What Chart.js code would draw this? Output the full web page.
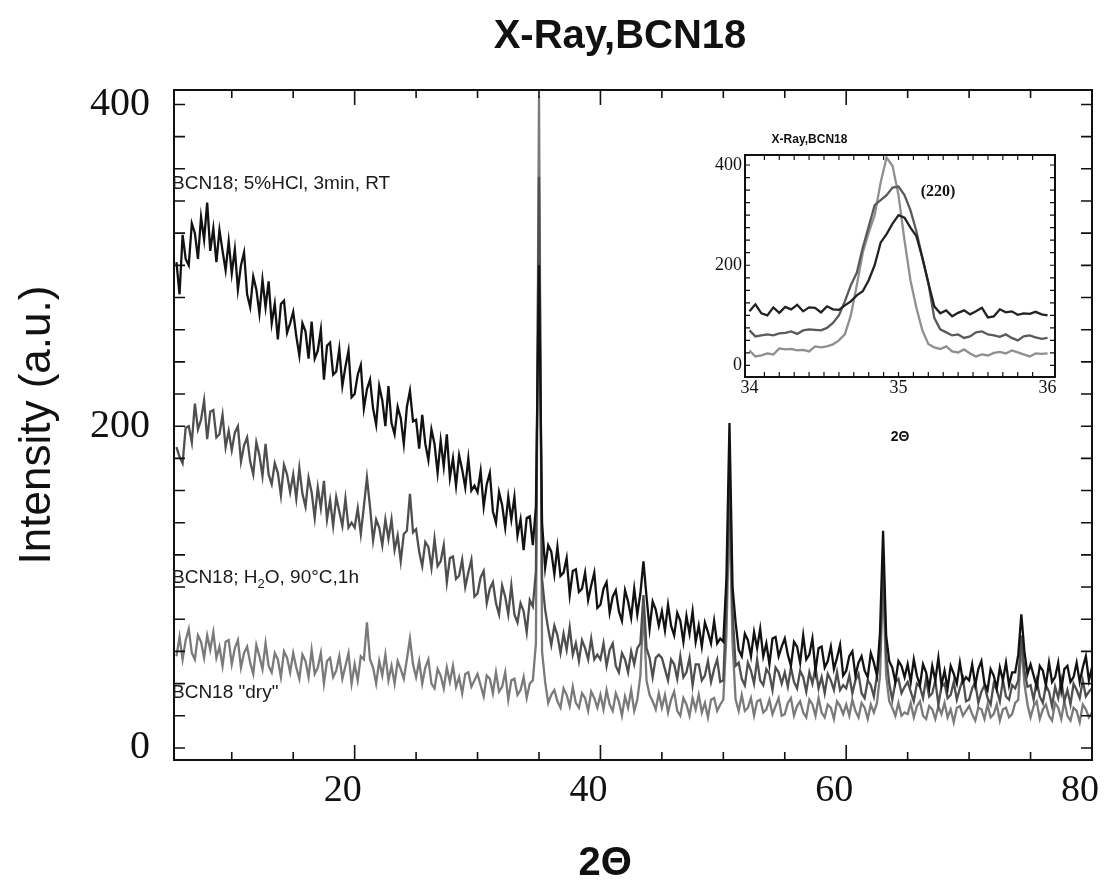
<!DOCTYPE html>
<html>
<head>
<meta charset="utf-8">
<script src="https://cdn.jsdelivr.net/npm/chart.js@4.4.0/dist/chart.umd.min.js"></script>
<style>
html,body{margin:0;padding:0;background:#fff;overflow:hidden;width:1116px;height:888px}
#wrap{position:relative;width:1116px;height:888px;overflow:hidden;background:#fff}
#main{position:absolute;left:0;top:0}
#inset{position:absolute;left:564px;top:100px}
</style>
</head>
<body>
<div id="wrap">
<canvas id="main" width="1240" height="888"></canvas>
<canvas id="inset" width="496" height="350"></canvas>
</div>
<script>
// ---------------- main pattern: 2θ from 5.5° to 80° every 0.25° ----------------
const twoThetaStart = 5.5;
const twoThetaStep = 0.25;

// BCN18; 5%HCl, 3min, RT
const hclCounts = [
  302, 282, 319, 304, 300, 326, 320, 304, 330, 316, 339, 309, 323, 302, 322, 309, 297, 315,
  295, 310, 285, 300, 308, 282, 274, 293, 285, 270, 291, 274, 290, 264, 276, 254, 276, 278, 258, 264,
  271, 256, 244, 264, 259, 242, 265, 242, 247, 260, 229, 250, 252, 232, 234, 248, 225, 237, 247, 218,
  220, 232, 238, 211, 223, 229, 211, 201, 225, 216, 200, 225, 202, 195, 212, 205, 189, 212, 222, 203,
  204, 186, 207, 189, 179, 198, 189, 171, 191, 175, 195, 168, 180, 163, 182, 173, 162, 180, 160, 163,
  159, 172, 150, 164, 171, 147, 140, 159, 151, 137, 156, 142, 156, 132, 142, 123, 143, 144, 126, 150,
  300, 140, 112, 126, 122, 108, 125, 107, 109, 118, 95, 110, 111, 97, 99, 109, 92, 101, 109, 87,
  89, 99, 103, 84, 94, 98, 85, 79, 98, 91, 81, 99, 83, 96, 116, 94, 74, 91, 86, 76,
  85, 73, 89, 76, 70, 84, 79, 66, 82, 71, 85, 66, 76, 63, 78, 72, 65, 79, 65, 68,
  66, 105, 202, 100, 78, 61, 57, 71, 67, 57, 72, 62, 74, 57, 65, 52, 68, 69, 57, 63,
  68, 58, 51, 66, 63, 53, 70, 55, 58, 68, 48, 62, 63, 50, 54, 63, 49, 56, 64, 45,
  48, 57, 60, 45, 53, 57, 48, 44, 59, 53, 45, 72, 135, 70, 54, 50, 41, 54, 51, 44,
  52, 41, 55, 45, 39, 52, 47, 37, 51, 42, 56, 39, 48, 37, 51, 46, 40, 53, 41, 44,
  42, 52, 39, 49, 54, 40, 36, 49, 45, 37, 50, 42, 53, 39, 47, 47, 58, 83, 60, 46,
  52, 45, 38, 51, 48, 39, 53, 41, 44, 53, 36, 49, 51, 41, 44, 53, 41, 50, 57, 42,
  50
];

// BCN18; H2O, 90°C, 1h
const h2oCounts = [
  187, 181, 177, 199, 200, 190, 214, 198, 204, 216, 192, 209, 210, 193, 195, 207, 187, 197,
  185, 196, 200, 178, 188, 193, 178, 170, 190, 182, 169, 189, 170, 164, 177, 171, 157, 176, 170, 159,
  170, 155, 174, 158, 150, 168, 159, 143, 162, 149, 166, 142, 154, 138, 156, 147, 138, 155, 137, 140,
  137, 149, 133, 150, 168, 150, 129, 142, 137, 126, 142, 130, 142, 123, 132, 116, 133, 135, 158, 134,
  136, 122, 113, 128, 125, 112, 130, 113, 116, 126, 103, 118, 119, 105, 107, 117, 100, 109, 117, 94,
  96, 106, 110, 90, 99, 103, 90, 83, 101, 94, 83, 101, 83, 78, 90, 85, 72, 92, 88, 110,
  355, 105, 86, 74, 64, 76, 70, 59, 71, 61, 75, 58, 65, 54, 67, 62, 55, 68, 55, 58,
  55, 65, 51, 61, 65, 51, 47, 59, 55, 47, 60, 52, 62, 65, 95, 62, 56, 44, 56, 58,
  56, 49, 42, 55, 52, 43, 57, 44, 47, 56, 39, 52, 52, 42, 45, 54, 41, 49, 55, 41,
  42, 90, 170, 85, 51, 53, 43, 39, 53, 48, 40, 55, 42, 39, 49, 46, 36, 50, 47, 40,
  47, 38, 50, 41, 37, 48, 44, 35, 47, 40, 50, 37, 44, 34, 46, 42, 36, 47, 36, 39,
  37, 45, 34, 42, 46, 34, 31, 42, 39, 32, 45, 60, 115, 58, 40, 30, 41, 43, 34, 38,
  41, 35, 29, 40, 38, 31, 43, 32, 34, 42, 27, 38, 40, 31, 33, 41, 30, 37, 43, 29,
  30, 37, 41, 28, 35, 39, 31, 27, 40, 36, 29, 42, 32, 30, 39, 37, 42, 70, 48, 38,
  39, 30, 42, 32, 28, 39, 35, 26, 38, 31, 42, 29, 36, 27, 40, 36, 31, 42, 32, 35,
  37
];

// BCN18 "dry"
const dryCounts = [
  57, 69, 55, 67, 74, 59, 55, 70, 66, 56, 70, 61, 72, 56, 63, 51, 66, 67,
  52, 62, 67, 50, 59, 63, 53, 46, 64, 57, 49, 65, 51, 47, 59, 55, 44, 60, 56, 47,
  59, 50, 43, 58, 54, 44, 61, 46, 50, 59, 40, 54, 56, 44, 48, 57, 43, 51, 59, 40,
  52, 42, 57, 55, 78, 55, 50, 40, 54, 45, 58, 42, 51, 40, 54, 49, 43, 55, 68, 52,
  44, 54, 40, 50, 55, 40, 37, 49, 45, 37, 50, 41, 51, 38, 44, 34, 46, 47, 38, 42,
  46, 39, 32, 45, 43, 34, 47, 35, 38, 47, 30, 42, 43, 33, 36, 44, 31, 40, 42, 65,
  405, 60, 41, 28, 33, 36, 29, 25, 37, 33, 26, 38, 28, 25, 34, 31, 23, 35, 31, 25,
  33, 24, 36, 27, 23, 34, 29, 20, 32, 25, 36, 23, 30, 45, 88, 42, 33, 29, 24, 34,
  25, 33, 22, 30, 35, 23, 20, 31, 27, 20, 31, 24, 33, 22, 28, 19, 30, 31, 23, 27,
  30, 70, 150, 65, 30, 23, 33, 23, 25, 31, 20, 29, 30, 22, 24, 30, 21, 26, 31, 20,
  21, 28, 31, 20, 26, 29, 22, 19, 30, 27, 20, 31, 22, 19, 27, 25, 18, 29, 26, 21,
  27, 20, 30, 23, 19, 28, 25, 18, 27, 22, 28, 45, 105, 45, 29, 25, 20, 28, 20, 22,
  21, 28, 19, 26, 29, 20, 18, 26, 24, 18, 26, 21, 28, 19, 24, 16, 25, 26, 20, 23,
  26, 21, 17, 25, 24, 18, 27, 19, 21, 27, 17, 24, 25, 19, 21, 28, 30, 65, 40, 27,
  19, 26, 29, 18, 24, 27, 20, 17, 28, 25, 18, 29, 20, 17, 25, 23, 16, 27, 24, 19,
  22
];

const xTickLabels = [20, 40, 60, 80];
const yTickLabels = [0, 200, 400];
const xTickMarks = [10, 15, 20, 25, 30, 35, 40, 45, 50, 55, 60, 65, 70, 75];
const xMajorMarks = [20, 40, 60];
const yTickMarks = [0, 20, 40, 60, 80, 100, 120, 140, 160, 180, 200, 220, 240, 260, 280, 300, 320, 340, 360, 380, 400];

// ---------------- inset: (220) reflection, 34° to 36° every 0.04° ----------------
const insetStart = 34;
const insetStep = 0.04;
const insetHCl = [108, 122, 104, 100, 116, 105, 117, 112, 121, 108, 116, 115, 106, 118, 112, 111, 120, 128, 140, 148, 170, 200, 245, 262, 283, 300, 295, 275, 258, 215, 165, 118, 104, 110, 98, 105, 110, 102, 108, 115, 96, 98, 112, 106, 108, 101, 104, 103, 107, 102, 100];
const insetH2O = [70, 58, 60, 62, 60, 64, 65, 68, 63, 70, 72, 71, 70, 75, 85, 100, 128, 160, 185, 235, 277, 320, 330, 340, 355, 357, 340, 310, 268, 215, 165, 95, 72, 66, 60, 62, 55, 58, 66, 68, 62, 60, 57, 62, 55, 50, 58, 60, 56, 53, 55];
const insetDry = [30, 18, 20, 24, 22, 34, 32, 33, 30, 31, 28, 38, 36, 38, 42, 50, 62, 100, 160, 225, 265, 300, 365, 415, 398, 340, 250, 170, 115, 70, 43, 36, 33, 38, 28, 26, 32, 24, 18, 22, 20, 25, 27, 24, 30, 26, 22, 18, 24, 23, 24];
const insetXTickLabels = [34, 35, 36];
const insetYTickLabels = [0, 200, 400];
const insetXTickMarks = [34.1, 34.2, 34.3, 34.4, 34.5, 34.6, 34.7, 34.8, 34.9, 35.0, 35.1, 35.2, 35.3, 35.4, 35.5, 35.6, 35.7, 35.8, 35.9];
const insetYTickMarks = [0, 25, 50, 75, 100, 125, 150, 175, 200, 225, 250, 275, 300, 325, 350, 375, 400];

// ---------------- helpers ----------------
const SANS = "'Liberation Sans', Arial, sans-serif";
const SERIF = "'Liberation Serif', 'Times New Roman', serif";
Chart.defaults.color = '#111';

const twoTheta = hclCounts.map((_, i) => twoThetaStart + twoThetaStep * i);
const insetTwoTheta = insetHCl.map((_, i) => +(insetStart + insetStep * i).toFixed(2));
const pts = (xs, ys) => xs.map((x, i) => ({x: x, y: ys[i]}));

function makeFrame(cfg) {
  return {
    id: 'frame_' + cfg.name,
    afterDatasetsDraw(chart) {
      const {ctx, chartArea: a} = chart;
      const xs = chart.scales.x, ys = chart.scales.y;
      ctx.save();
      ctx.strokeStyle = '#111';
      ctx.lineWidth = cfg.tickWidth;
      ctx.beginPath();
      cfg.xMarks.forEach(v => {
        const px = xs.getPixelForValue(v);
        const len = cfg.xMajor.includes(v) ? cfg.majorLen : cfg.minorLen;
        ctx.moveTo(px, a.bottom); ctx.lineTo(px, a.bottom - len);
        ctx.moveTo(px, a.top); ctx.lineTo(px, a.top + len);
      });
      cfg.yMarks.forEach(v => {
        const py = ys.getPixelForValue(v);
        ctx.moveTo(a.left, py); ctx.lineTo(a.left + cfg.yLen, py);
        ctx.moveTo(a.right, py); ctx.lineTo(a.right - cfg.yLen, py);
      });
      ctx.stroke();
      ctx.lineWidth = cfg.frameWidth;
      ctx.strokeRect(a.left, a.top, a.right - a.left, a.bottom - a.top);
      ctx.restore();
    }
  };
}

const mainLabels = {
  id: 'mainLabels',
  afterDraw(chart) {
    const {ctx, chartArea: a} = chart;
    const ys = chart.scales.y;
    ctx.save();
    ctx.fillStyle = '#1a1a1a';
    ctx.textBaseline = 'middle';
    ctx.textAlign = 'left';
    ctx.font = "19px " + SANS;
    const x0 = a.left - 2;
    ctx.fillText('BCN18; 5%HCl, 3min, RT', x0, ys.getPixelForValue(351));
    let y2 = ys.getPixelForValue(105.6);
    let s = 'BCN18; H';
    ctx.fillText(s, x0, y2);
    let x = x0 + ctx.measureText(s).width;
    ctx.font = "13px " + SANS;
    ctx.fillText('2', x, y2 + 6);
    x += ctx.measureText('2').width;
    ctx.font = "19px " + SANS;
    ctx.fillText('O, 90°C,1h', x, y2);
    ctx.fillText('BCN18 "dry"', x0, ys.getPixelForValue(34.1));
    ctx.restore();
  }
};

const insetLabels = {
  id: 'insetLabels',
  afterDraw(chart) {
    const {ctx} = chart;
    ctx.save();
    ctx.fillStyle = '#111';
    ctx.textBaseline = 'middle';
    ctx.textAlign = 'center';
    ctx.font = "bold 16px " + SERIF;
    ctx.fillText('(220)', chart.scales.x.getPixelForValue(35.265), chart.scales.y.getPixelForValue(346));
    ctx.restore();
  }
};

// ---------------- main chart ----------------
new Chart(document.getElementById('main'), {
  type: 'line',
  data: {
    datasets: [
      {label: 'BCN18; 5%HCl, 3min, RT', data: pts(twoTheta, hclCounts), borderColor: '#121212', borderWidth: 2.3, pointRadius: 0, xAxisID: 'x', yAxisID: 'y'},
      {label: 'BCN18; H2O, 90°C,1h', data: pts(twoTheta, h2oCounts), borderColor: '#4f4f4f', borderWidth: 2.3, pointRadius: 0, xAxisID: 'x', yAxisID: 'y'},
      {label: 'BCN18 "dry"', data: pts(twoTheta, dryCounts), borderColor: '#7a7a7a', borderWidth: 2.3, pointRadius: 0, xAxisID: 'x', yAxisID: 'y'}
    ]
  },
  options: {
    responsive: false,
    animation: false,
    events: [],
    layout: {padding: 0},
    plugins: {
      legend: {display: false},
      tooltip: {enabled: false},
      title: {display: true, text: 'X-Ray,BCN18', color: '#111',
        font: {family: SANS, size: 40, weight: 'bold'}, padding: {top: 13, bottom: 29}}
    },
    scales: {
      x: {
        type: 'linear', position: 'bottom', min: 5.3, max: 80,
        afterBuildTicks: s => { s.ticks = xTickLabels.map(v => ({value: v})); },
        afterFit: s => { s.height = 128; },
        ticks: {font: {family: SERIF, size: 38}, color: '#111', padding: 8, labelOffset: -12, maxRotation: 0, autoSkip: false},
        grid: {display: false, drawTicks: false},
        border: {display: false},
        title: {display: true, text: '2Θ     ', color: '#111', font: {family: SANS, size: 40, weight: 'bold'}, padding: {top: 0, bottom: 0}}
      },
      y: {
        type: 'linear', position: 'left', min: -7.5, max: 409,
        afterBuildTicks: s => { s.ticks = yTickLabels.map(v => ({value: v})); },
        afterFit: s => { s.width = 174; },
        ticks: {font: {family: SERIF, size: 40}, color: '#111', padding: 24, autoSkip: false},
        grid: {display: false, drawTicks: false},
        border: {display: false},
        title: {display: true, text: 'Intensity (a.u.)', color: '#111', font: {family: SANS, size: 44}, padding: {top: 11.6, bottom: 0}}
      },
      yR: {
        type: 'linear', position: 'right', display: true,
        afterFit: s => { s.width = 148; },
        ticks: {display: false},
        grid: {display: false, drawTicks: false},
        border: {display: false}
      }
    }
  },
  plugins: [makeFrame({name: 'main', xMarks: xTickMarks, xMajor: xMajorMarks, yMarks: yTickMarks, majorLen: 15, minorLen: 8, yLen: 11, tickWidth: 1.6, frameWidth: 2}), mainLabels]
});

// ---------------- inset chart ----------------
new Chart(document.getElementById('inset'), {
  type: 'line',
  data: {
    datasets: [
      {label: 'BCN18; 5%HCl, 3min, RT', data: pts(insetTwoTheta, insetHCl), borderColor: '#222222', borderWidth: 2.3, pointRadius: 0},
      {label: 'BCN18; H2O, 90°C,1h', data: pts(insetTwoTheta, insetH2O), borderColor: '#5a5a5a', borderWidth: 2.3, pointRadius: 0},
      {label: 'BCN18 "dry"', data: pts(insetTwoTheta, insetDry), borderColor: '#8f8f8f', borderWidth: 2.3, pointRadius: 0}
    ]
  },
  options: {
    responsive: false,
    animation: false,
    events: [],
    layout: {padding: {right: 5}},
    plugins: {
      legend: {display: false},
      tooltip: {enabled: false},
      title: {display: true, text: 'X-Ray,BCN18', color: '#111',
        font: {family: SANS, size: 12, weight: 'bold'}, padding: {top: 32.8, bottom: 7.8}}
    },
    scales: {
      x: {
        type: 'linear', min: 33.97, max: 36.05,
        afterBuildTicks: s => { s.ticks = insetXTickLabels.map(v => ({value: v})); },
        afterFit: s => { s.height = 73; },
        ticks: {font: {family: SERIF, size: 18}, color: '#111', padding: 0, maxRotation: 0, autoSkip: false},
        grid: {display: false, drawTicks: false},
        border: {display: false},
        title: {display: true, text: '2Θ', color: '#111', font: {family: SANS, size: 14, weight: 'bold'}, padding: {top: 0, bottom: 4.6}}
      },
      y: {
        type: 'linear', min: -23, max: 420,
        afterBuildTicks: s => { s.ticks = insetYTickLabels.map(v => ({value: v})); },
        afterFit: s => { s.width = 181; },
        ticks: {font: {family: SERIF, size: 18}, color: '#111', padding: 3, autoSkip: false},
        grid: {display: false, drawTicks: false},
        border: {display: false}
      }
    }
  },
  plugins: [makeFrame({name: 'inset', xMarks: insetXTickMarks, xMajor: [], yMarks: insetYTickMarks, majorLen: 5, minorLen: 5, yLen: 5, tickWidth: 1.2, frameWidth: 2}), insetLabels]
});
</script>
</body>
</html>
